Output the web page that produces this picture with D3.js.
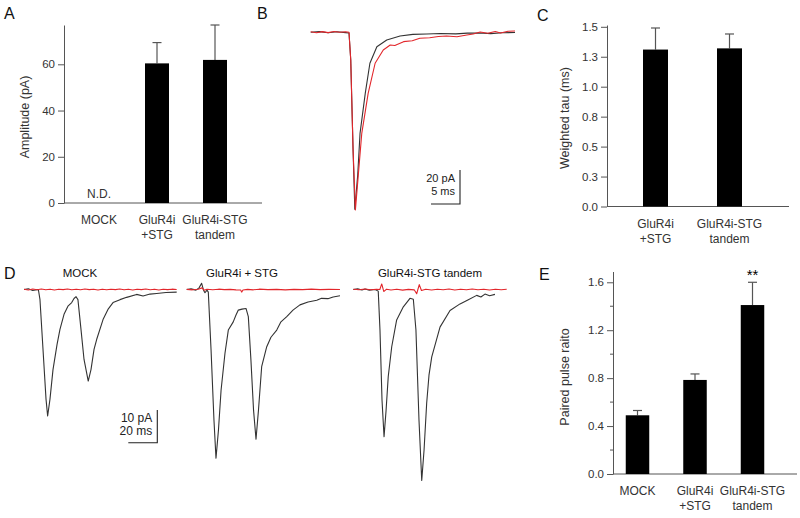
<!DOCTYPE html>
<html><head><meta charset="utf-8">
<script src="https://cdn.jsdelivr.net/npm/d3@7"></script>
<style>body{margin:0;background:#fff} text{font-family:"Liberation Sans",Arial,sans-serif}</style>
</head><body>
<svg id="c" width="800" height="518"></svg>
<script>
// ---------------- data ----------------
const groups3 = ["MOCK", "GluR4i +STG", "GluR4i-STG tandem"];
const groupLines3 = [["MOCK"], ["GluR4i", "+STG"], ["GluR4i-STG", "tandem"]];
const groups2 = ["GluR4i +STG", "GluR4i-STG tandem"];
const groupLines2 = [["GluR4i", "+STG"], ["GluR4i-STG", "tandem"]];

const amplitudeMean = [null, 60.4, 61.9];
const amplitudeErr = [null, 9.0, 15.1];
const amplitudeTicks = [0, 20, 40, 60];
const amplitudeTickLabels = ["0", "20", "40", "60"];

const tauMean = [1.31, 1.32];
const tauErr = [0.18, 0.12];
const tauTicks = [0, 0.25, 0.5, 0.75, 1.0, 1.25, 1.5];
const tauTickLabels = ["0.0", "0.3", "0.5", "0.8", "1.0", "1.3", "1.5"];

const pprMean = [0.49, 0.785, 1.41];
const pprErr = [0.04, 0.05, 0.19];
const pprTicks = [0, 0.4, 0.8, 1.2, 1.6];
const pprTickLabels = ["0.0", "0.4", "0.8", "1.2", "1.6"];
const pprMinorTicks = [0.2, 0.6, 1.0, 1.4];
const pprSignificance = ["", "", "**"];

// panel B traces: [time ms, current pA]
const traceBBlack = [[0,0],[1.5,0.4],[3,-0.3],[4.5,0.3],[6,-0.2],[6.6,-0.4],[6.9,-16.3],[7.3,-69],[7.6,-104],[8.1,-84],[8.5,-59.4],[9.4,-35.9],[10.2,-18.2],[11.4,-8.5],[13.1,-4.5],[15.4,-2.2],[17.6,-1.2],[20,-1.0],[22.3,-0.7],[25,-0.9],[27,-0.5],[29.2,-0.4],[31,-0.8],[33,-0.3],[35.2,-0.1]];
const traceBRed = [[0,0.3],[1,-0.3],[2,0.4],[3,-0.2],[4,0.5],[5,0],[6,0.3],[6.6,0],[6.9,-16.3],[7.3,-69],[7.7,-104.5],[8.2,-84],[8.8,-59.4],[9.9,-35.9],[11.1,-18.2],[12.5,-10.4],[13.7,-7.5],[14.5,-7.8],[16,-5.5],[17.5,-5.0],[18.8,-3.5],[20.5,-3.2],[22,-2.5],[23.4,-2.2],[25.2,-2.6],[26.9,-1.6],[28,-1.0],[29.2,0.2],[30.5,-0.6],[31.8,0.5],[32.7,-0.4],[34,0.6],[35.2,0.8]];

// panel D traces: [time ms, current pA]
const traceDMockBlack = [[0,0],[3,0.2],[6,-0.3],[9.9,0],[11,-3],[13.1,-18.3],[15.2,-33.6],[16.3,-38.7],[17.9,-33.6],[20,-24.5],[22.8,-16.8],[24.8,-12.2],[27.6,-7.6],[30.3,-5.1],[32.9,-4.0],[34.5,-2.75],[35.9,-2.2],[37.2,-3.1],[39.3,-12.2],[41.4,-21.4],[44.3,-28],[46.2,-24.5],[48.3,-18.3],[50.1,-15.3],[54.5,-9.2],[57.9,-6.1],[61.4,-4.0],[66.2,-3.1],[70.8,-2.4],[77.7,-1.5],[82.1,-2.0],[86.9,-1.4],[91.5,-1.2],[97.9,-0.9],[105.3,-0.8]];
const traceDMockRed = [[0,0.1],[3,-0.15],[6,0.15],[9,-0.1],[12,0.15],[15,-0.1],[18,0.1],[21,-0.15],[24,0.1],[27,-0.05],[30,0.15],[33,-0.1],[36,0.1],[39,-0.1],[42,0.15],[45,-0.05],[48,0.1],[51,-0.15],[54,0.1],[57,-0.1],[60,0.1],[63,-0.05],[66,0.15],[69,-0.1],[72,0.1],[75,-0.15],[78,0.1],[81,-0.05],[84,0.15],[87,-0.1],[90,0.1],[93,-0.15],[96,0.1],[99,-0.05],[102,0.1],[105.3,0]];
const traceDStgBlack = [[0,0],[3,0.2],[6.4,-0.2],[8.5,0.5],[10.3,1.9],[11.6,-0.2],[12.6,-1.0],[14,-0.2],[14.9,-0.8],[16.8,-18.5],[18.8,-39.9],[20.2,-51.6],[21.9,-43],[23.7,-30.8],[26.4,-19.5],[28.7,-12.4],[32.1,-9.9],[34,-7.8],[35.6,-6.3],[38.1,-6.0],[40.9,-5.8],[42.5,-8.3],[44.3,-21.6],[46.1,-36.9],[47.8,-45.8],[49.5,-36.9],[51.7,-23.6],[55.2,-17.5],[58.1,-14.6],[62.1,-12.4],[65,-9.9],[69,-8.3],[73.3,-6.3],[78.1,-4.7],[83.7,-3.8],[89.7,-3.3],[93,-2.7],[97.4,-2.8],[101,-2.3],[105.7,-1.9]];
const traceDStgRed = [[0,0.05],[4,-0.1],[8,0.1],[10.5,0.5],[12,-0.2],[14,0.1],[18,-0.1],[22,0.1],[26,-0.05],[30,0.05],[34,-0.1],[37.2,-0.15],[37.9,-0.8],[38.8,-0.15],[42,0.05],[46,-0.1],[50,0.1],[56,-0.05],[62,0.05],[68,-0.1],[74,0.05],[80,-0.05],[86,0.1],[92,-0.05],[98,0.05],[105.7,0]];
const traceDTandemBlack = [[0,0],[3,0.2],[6,-0.15],[8.1,0.15],[11,-0.2],[15,0],[17.2,-0.5],[18.4,-12.4],[19.8,-33.8],[21.2,-45],[22.6,-37],[24.1,-26.6],[26.5,-17.5],[29.9,-9.3],[34.5,-5.3],[39.1,-2.7],[41.4,-3.0],[43.2,-12.4],[45.3,-39.9],[47.2,-58.4],[48.8,-49.1],[50.6,-34.8],[52.2,-26.2],[54.1,-20.6],[59.8,-11.5],[66.7,-6.4],[73.6,-4.4],[79,-3.2],[85.1,-1.8],[88,-2.3],[90.8,-1.4],[94,-1.9],[97.7,-1.5]];
const traceDTandemRed = [[0,0.1],[4,-0.1],[8,0.15],[12,-0.1],[16,0.1],[18.3,0],[19.6,1.7],[21,-0.6],[23,0.1],[26,-0.15],[30,0.1],[34,-0.2],[38,0.05],[42,-0.1],[43.7,-1.3],[45.5,1.5],[47,-0.3],[50,0.1],[54,-0.15],[58,0.1],[62,-0.1],[66,0.15],[70,-0.15],[74,0.1],[78,-0.1],[82,0.15],[86,-0.1],[90,0.1],[94,-0.15],[98,0.1],[102,-0.1],[105.8,0.1]];
const traceDTitles = ["MOCK", "GluR4i + STG", "GluR4i-STG tandem"];

// ---------------- drawing ----------------
const svg = d3.select("#c");
const AX = "#555", TXT = "#333", BLK = "#333", RED = "#e2262b";

function barPanel(o) {
  const y = d3.scaleLinear().domain(o.yDomain).range(o.yRange);
  const x = d3.scalePoint().domain(o.cats).range(o.xRange);
  const g = svg.append("g");
  const ax = d3.axisLeft(y).tickValues(o.ticks).tickSize(6).tickSizeOuter(0).tickPadding(3)
    .tickFormat((d, i) => o.tickLabels[i]);
  const ga = g.append("g").attr("transform", `translate(${o.axisX},0)`).call(ax);
  ga.select(".domain").attr("stroke", AX);
  ga.selectAll(".tick line").attr("stroke", AX);
  ga.selectAll(".tick text").attr("fill", TXT).style("font-size", "11.5px")
    .style("font-family", '"Liberation Sans",Arial,sans-serif');
  if (o.minor) {
    g.selectAll(".minor").data(o.minor).join("line")
      .attr("x1", o.axisX - 3).attr("x2", o.axisX).attr("y1", d => y(d)).attr("y2", d => y(d))
      .attr("stroke", AX);
  }
  g.append("line").attr("x1", o.axisX).attr("x2", o.axisEnd).attr("y1", y(0)).attr("y2", y(0)).attr("stroke", AX);
  const data = o.cats.map((c, i) => ({c, m: o.mean[i], e: o.err[i], lines: o.lines[i], s: o.sig ? o.sig[i] : ""}));
  const valid = data.filter(d => d.m != null);
  g.selectAll(".err").data(valid).join("line")
    .attr("x1", d => x(d.c)).attr("x2", d => x(d.c)).attr("y1", d => y(d.m)).attr("y2", d => y(d.m + d.e))
    .attr("stroke", AX).attr("stroke-width", 1.2);
  g.selectAll(".cap").data(valid).join("line")
    .attr("x1", d => x(d.c) - 4.5).attr("x2", d => x(d.c) + 4.5).attr("y1", d => y(d.m + d.e)).attr("y2", d => y(d.m + d.e))
    .attr("stroke", AX).attr("stroke-width", 1.2);
  g.selectAll(".bar").data(valid).join("rect")
    .attr("x", d => x(d.c) - o.barW / 2).attr("width", o.barW)
    .attr("y", d => y(d.m)).attr("height", d => y(0) - y(d.m)).attr("fill", "#000");
  data.forEach(d => {
    d.lines.forEach((ln, k) => {
      g.append("text").attr("x", x(d.c)).attr("y", y(0) + 21 + k * 15).attr("text-anchor", "middle")
        .attr("fill", TXT).style("font-size", "12px").text(ln);
    });
    if (d.s) {
      g.append("text").attr("x", x(d.c)).attr("y", y(d.m + d.e) - 2).attr("text-anchor", "middle")
        .attr("fill", "#000").style("font-size", "15px").text(d.s);
    }
  });
  if (o.nd) {
    g.append("text").attr("x", x(o.nd)).attr("y", y(0) - 5).attr("text-anchor", "middle")
      .attr("fill", TXT).style("font-size", "12px").text("N.D.");
  }
  g.append("text").attr("transform", `translate(${o.ylabelX},${o.ylabelY}) rotate(-90)`)
    .attr("text-anchor", "middle").attr("dominant-baseline", "middle")
    .attr("fill", TXT).style("font-size", "12.5px").text(o.ylabel);
}

// Panel A
barPanel({cats: groups3, lines: groupLines3, mean: amplitudeMean, err: amplitudeErr,
  yDomain: [0, 77], yRange: [203, 25], xRange: [99, 215], axisX: 64, axisEnd: 262,
  ticks: amplitudeTicks, tickLabels: amplitudeTickLabels, barW: 24, nd: "MOCK",
  ylabel: "Amplitude (pA)", ylabelX: 26, ylabelY: 117});
// Panel C
barPanel({cats: groups2, lines: groupLines2, mean: tauMean, err: tauErr,
  yDomain: [0, 1.515], yRange: [206.5, 25], xRange: [655.5, 729.5], axisX: 607, axisEnd: 789,
  ticks: tauTicks, tickLabels: tauTickLabels, barW: 25,
  ylabel: "Weighted tau (ms)", ylabelX: 566, ylabelY: 118});
// Panel E
barPanel({cats: groups3, lines: groupLines3, mean: pprMean, err: pprErr, sig: pprSignificance,
  yDomain: [0, 1.69], yRange: [474, 271.5], xRange: [637.5, 752.5], axisX: 613, axisEnd: 797,
  ticks: pprTicks, tickLabels: pprTickLabels, minor: pprMinorTicks, barW: 23.5,
  ylabel: "Paired pulse raito", ylabelX: 566, ylabelY: 377});

// traces
function drawTrace(data, x, y, color) {
  const line = d3.line().x(d => x(d[0])).y(d => y(d[1])).curve(d3.curveLinear);
  svg.append("path").datum(data).attr("d", line).attr("fill", "none")
    .attr("stroke", color).attr("stroke-width", 1.1).attr("stroke-linejoin", "round");
}
function scaleBar(cx, cy, x, y, tms, tpa, lblI, lblT, fs) {
  const w = x(tms) - x(0), h = y(-tpa) - y(0);
  const g = svg.append("g");
  g.append("path").attr("d", `M${cx - w},${cy}H${cx}V${cy - h}`).attr("fill", "none").attr("stroke", "#222").attr("stroke-width", 1.1);
  g.append("text").attr("x", cx - 5).attr("y", cy - h + 12).attr("text-anchor", "end").attr("fill", "#222").style("font-size", fs).text(lblI);
  g.append("text").attr("x", cx - 5).attr("y", cy - h + 25).attr("text-anchor", "end").attr("fill", "#222").style("font-size", fs).text(lblT);
}

// Panel B
const xB = d3.scaleLinear().domain([0, 35.2]).range([310.7, 515]);
const yB = d3.scaleLinear().domain([0, -104.5]).range([32.3, 210]);
drawTrace(traceBBlack, xB, yB, BLK);
drawTrace(traceBRed, xB, yB, RED);
scaleBar(460, 204, xB, yB, 5, 20, "20 pA", "5 ms", "11px");

// Panel D
const dOffsets = [24, 186.7, 353.3];
const dSets = [[traceDMockBlack, traceDMockRed], [traceDStgBlack, traceDStgRed], [traceDTandemBlack, traceDTandemRed]];
const yD = d3.scaleLinear().domain([0, -60]).range([289.5, 485.7]);
let xD0;
dSets.forEach((s, i) => {
  const xD = d3.scaleLinear().domain([0, 106]).range([dOffsets[i], dOffsets[i] + 153.7]);
  if (i === 0) xD0 = xD;
  drawTrace(s[0], xD, yD, BLK);
  drawTrace(s[1], xD, yD, RED);
});
const titleX = [80, 242, 430];
traceDTitles.forEach((t, i) => {
  svg.append("text").attr("x", titleX[i]).attr("y", 277).attr("text-anchor", "middle")
    .attr("fill", "#111").style("font-size", "11.5px").text(t);
});
scaleBar(157.3, 442.7, xD0, yD, 20, 10, "10 pA", "20 ms", "12px");

// panel letters
[["A", 4, 19], ["B", 257, 19], ["C", 537, 21], ["D", 4, 279], ["E", 539, 280]].forEach(p => {
  svg.append("text").attr("x", p[1]).attr("y", p[2]).attr("fill", "#111").style("font-size", "16px").text(p[0]);
});
</script>
</body></html>
